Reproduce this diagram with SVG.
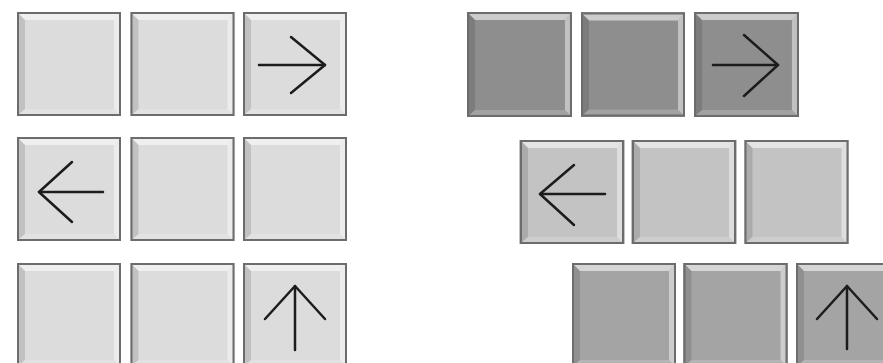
<svg xmlns="http://www.w3.org/2000/svg" xmlns:xlink="http://www.w3.org/1999/xlink" width="883" height="363" viewBox="0 0 883 363">
<style>
.face{stroke:#6c6c6c;stroke-width:2}
.l{fill:#dcdcdc}
.d1{fill:#8e8e8e}
.d2{fill:#c3c3c3}
.d3{fill:#a4a4a4}
.arrow{fill:none;stroke:#1c1c1c;stroke-width:2.5;stroke-linecap:round;stroke-linejoin:round}
</style>
<defs>
<symbol id="bevel" viewBox="0 0 104 104" overflow="visible">
<polygon points="1,1 103,1 97,8 8,8" fill="#ffffff" fill-opacity="0.55"/>
<polygon points="1,1 8,8 8,97 1,103" fill="#000000" fill-opacity="0.12"/>
<polygon points="103,1 103,103 97,97 97,8" fill="#ffffff" fill-opacity="0.45"/>
<polygon points="1,103 103,103 97,97 8,97" fill="#ffffff" fill-opacity="0.18"/>
<rect x="1" y="1" width="102" height="102" fill="none" stroke="#6c6c6c" stroke-width="2"/>
</symbol>
</defs>
<rect width="883" height="363" fill="#ffffff"/>
<!-- left block -->
<g id="L11"><rect class="l" x="17" y="12" width="104" height="104"/><use xlink:href="#bevel" x="17" y="12" width="104" height="104"/></g>
<g id="L12"><rect class="l" x="130" y="12" width="105" height="104"/><use xlink:href="#bevel" x="130" y="12" width="105" height="104"/></g>
<g id="L13"><rect class="l" x="243" y="12" width="104" height="104"/><use xlink:href="#bevel" x="243" y="12" width="104" height="104"/><polyline class="arrow" points="259,65 325,65"/><polyline class="arrow" points="291,37 325,65 291,93"/></g>
<g id="L21"><rect class="l" x="17" y="137" width="104" height="104"/><use xlink:href="#bevel" x="17" y="137" width="104" height="104"/><polyline class="arrow" points="39,192 103,192"/><polyline class="arrow" points="72,162 39,192 72,222"/></g>
<g id="L22"><rect class="l" x="130" y="137" width="105" height="104"/><use xlink:href="#bevel" x="130" y="137" width="105" height="104"/></g>
<g id="L23"><rect class="l" x="243" y="137" width="104" height="104"/><use xlink:href="#bevel" x="243" y="137" width="104" height="104"/></g>
<g id="L31"><rect class="l" x="17" y="263" width="104" height="104"/><use xlink:href="#bevel" x="17" y="263" width="104" height="104"/></g>
<g id="L32"><rect class="l" x="130" y="263" width="105" height="104"/><use xlink:href="#bevel" x="130" y="263" width="105" height="104"/></g>
<g id="L33"><rect class="l" x="243" y="263" width="104" height="104"/><use xlink:href="#bevel" x="243" y="263" width="104" height="104"/><polyline class="arrow" points="295,286 295,350"/><polyline class="arrow" points="265,319 295,286 325,319"/></g>
<!-- right block -->
<g id="R11"><rect class="d1" x="467" y="12" width="105" height="105"/><use xlink:href="#bevel" x="467" y="12" width="105" height="105"/></g>
<g id="R12"><rect class="d1" x="581" y="12" width="104" height="105"/><use xlink:href="#bevel" x="581" y="12" width="104" height="105"/></g>
<g id="R13"><rect class="d1" x="694" y="12" width="105" height="105"/><use xlink:href="#bevel" x="694" y="12" width="105" height="105"/><polyline class="arrow" points="713,65 778,65"/><polyline class="arrow" points="744,35 778,65 744,96"/></g>
<g id="R21"><rect class="d2" x="519" y="140" width="106" height="104"/><use xlink:href="#bevel" x="519" y="140" width="106" height="104"/><polyline class="arrow" points="540,194 605,194"/><polyline class="arrow" points="574,165 540,194 574,225"/></g>
<g id="R22"><rect class="d2" x="631" y="140" width="106" height="104"/><use xlink:href="#bevel" x="631" y="140" width="106" height="104"/></g>
<g id="R23"><rect class="d2" x="744" y="140" width="105" height="104"/><use xlink:href="#bevel" x="744" y="140" width="105" height="104"/></g>
<g id="R31"><rect class="d3" x="572" y="263" width="104" height="104"/><use xlink:href="#bevel" x="572" y="263" width="104" height="104"/></g>
<g id="R32"><rect class="d3" x="683" y="263" width="105" height="104"/><use xlink:href="#bevel" x="683" y="263" width="105" height="104"/></g>
<g id="R33"><rect class="d3" x="796" y="263" width="104" height="104"/><use xlink:href="#bevel" x="796" y="263" width="104" height="104"/><polyline class="arrow" points="847,286 847,349"/><polyline class="arrow" points="817,319 847,286 877,319"/></g>
<g id="connectors"/>
</svg>
